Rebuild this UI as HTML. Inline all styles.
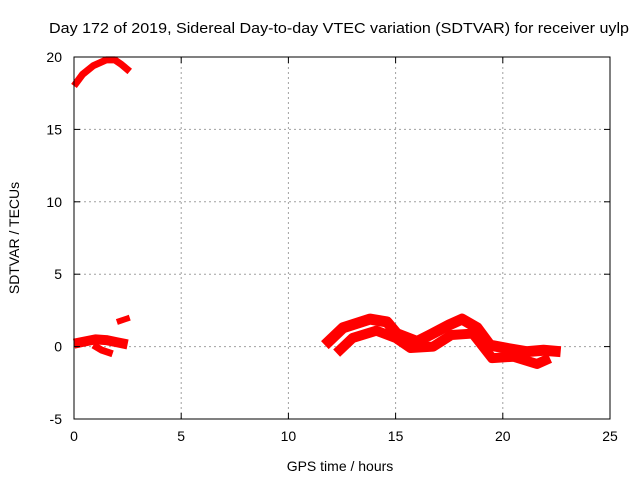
<!DOCTYPE html>
<html><head><meta charset="utf-8"><style>
body{margin:0;background:#fff}
svg{display:block;font-family:"Liberation Sans",sans-serif}
</style></head><body>
<svg id="chart" width="640" height="480">
<text x="339" y="33" font-size="15" text-anchor="middle" textLength="580" lengthAdjust="spacingAndGlyphs">Day 172 of 2019, Sidereal Day-to-day VTEC variation (SDTVAR) for receiver uylp</text>
<g id="grid"></g><g id="marks"></g><g id="axes"></g>
<text x="340" y="471" font-size="14" text-anchor="middle">GPS time / hours</text>
<text transform="translate(19,238) rotate(-90)" font-size="14" text-anchor="middle">SDTVAR / TECUs</text>
</svg>
<script>
const xTicks=[0,5,10,15,20,25];
const yTicks=[-5,0,5,10,15,20];
const segAHours=[0,0.4,0.9,1.5,1.9,2.2,2.6];
const segAVals=[18.0,18.8,19.4,19.8,19.8,19.5,19.0];
const segBHours=[0,0.5,1,1.5,2,2.5];
const segBVals=[0.2,0.35,0.5,0.45,0.3,0.15];
const segCHours=[0.9,1.3,1.8];
const segCVals=[0.1,-0.25,-0.5];
const segDHours=[2.0,2.6];
const segDVals=[1.7,2.0];
const segEHours=[11.7,12.55,13.8,14.6,15.05,16.0,16.6,17.5,18.1,18.8,19.4,20.3,21.1,21.9,22.7];
const segEVals=[0.1,1.3,1.9,1.7,0.9,0.35,0.8,1.5,1.9,1.3,0.1,-0.15,-0.35,-0.25,-0.35];
const segFHours=[12.25,13.0,14.1,15.0,15.7,16.75,17.6,18.6,19.5,20.5,21.6,22.2];
const segFVals=[-0.45,0.6,1.1,0.6,-0.1,0.0,0.8,0.9,-0.8,-0.7,-1.2,-0.8];
const X0=74,X1=610,Y0=419,Y1=57;
const xs=h=>X0+(h-0)/(25-0)*(X1-X0);
const ys=v=>Y0-(v+5)/25*(Y0-Y1);
const NS='http://www.w3.org/2000/svg';
function mk(tag,attrs,parent){const e=document.createElementNS(NS,tag);for(const k in attrs)e.setAttribute(k,attrs[k]);parent.appendChild(e);return e;}
const grid=document.getElementById('grid'),axes=document.getElementById('axes'),marks=document.getElementById('marks');
xTicks.forEach(t=>{
 if(t>0&&t<25){const g=mk('line',{x1:xs(t),x2:xs(t),y1:Y1,y2:Y0,stroke:'#a0a0a0','stroke-dasharray':'2,3'},grid);
 
 }
 mk('line',{x1:xs(t),x2:xs(t),y1:Y0,y2:Y0-6,stroke:'#000'},axes);
 mk('line',{x1:xs(t),x2:xs(t),y1:Y1,y2:Y1+6,stroke:'#000'},axes);
 const l=mk('text',{x:xs(t),y:Y0+22,'font-size':14,'text-anchor':'middle'},axes);l.textContent=t;
 
 
});
yTicks.forEach(t=>{
 if(t>-5&&t<20){const g=mk('line',{x1:X0,x2:X1,y1:ys(t),y2:ys(t),stroke:'#a0a0a0','stroke-dasharray':'2,3'},grid);
 
 }
 mk('line',{x1:X0,x2:X0+6,y1:ys(t),y2:ys(t),stroke:'#000'},axes);
 mk('line',{x1:X1,x2:X1-6,y1:ys(t),y2:ys(t),stroke:'#000'},axes);
 const l=mk('text',{x:X0-12,y:ys(t)+5,'font-size':14,'text-anchor':'end'},axes);l.textContent=t;
 
 
});
const fr=mk('rect',{x:X0,y:Y1,width:X1-X0,height:Y0-Y1,fill:'none',stroke:'#000'},axes);


const segs=[[segAHours,segAVals,7],[segBHours,segBVals,10],[segCHours,segCVals,7],[segDHours,segDVals,6],[segEHours,segEVals,11],[segFHours,segFVals,10]];
segs.forEach(([h,v,w])=>{
 const p=mk('polyline',{points:h.map((x,i)=>xs(x)+','+ys(v[i])).join(' '),fill:'none',stroke:'#f00','stroke-width':w,'stroke-linejoin':'round','stroke-linecap':'butt'},marks);
 
 
});
</script>
</body></html>
